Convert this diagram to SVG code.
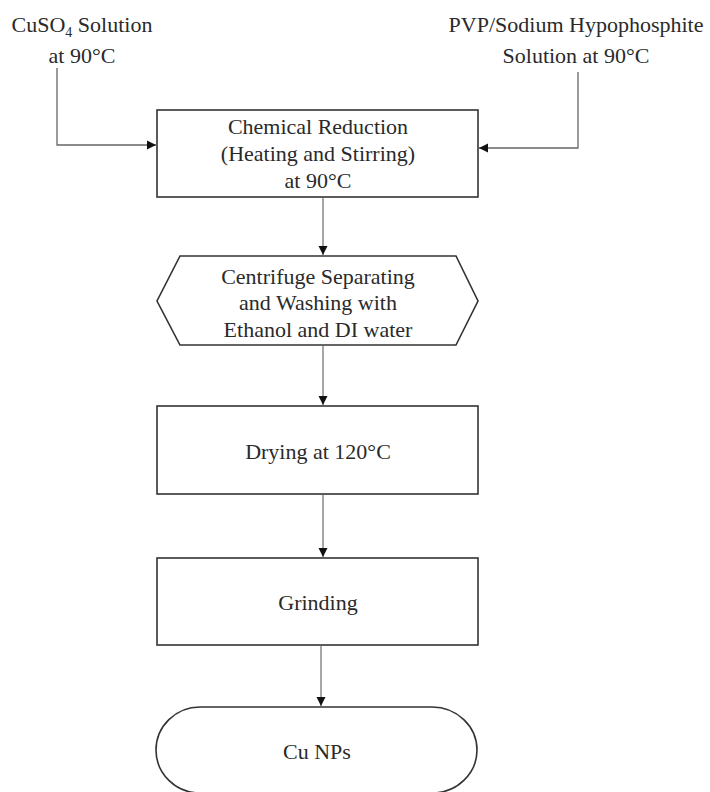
<svg xmlns="http://www.w3.org/2000/svg" width="710" height="792" viewBox="0 0 710 792">
<defs>
<marker id="ah" markerWidth="10" markerHeight="10" refX="9" refY="5" orient="auto" markerUnits="userSpaceOnUse">
<path d="M0,0.5 L9,5 L0,9.5 Z" fill="#111"/>
</marker>
<style>
text{font-family:"Liberation Serif","Times New Roman",serif;font-size:22px;fill:#2a2a2a;text-anchor:middle}
.box{fill:#fff;stroke:#333;stroke-width:1.6}
.conn{fill:none;stroke:#8a8a8a;stroke-width:1.5}
.inconn{fill:none;stroke:#666;stroke-width:1.3}
</style>
</defs>
<rect width="710" height="792" fill="#fff"/>
<g id="input-cuso4">
<text x="82" y="32">CuSO<tspan font-size="14" dy="5">4</tspan><tspan dy="-5"> Solution</tspan></text>
<text x="82" y="63">at 90°C</text>
</g>
<g id="input-pvp">
<text x="576" y="32">PVP/Sodium Hypophosphite</text>
<text x="576" y="63">Solution at 90°C</text>
</g>
<g id="reduction">
<rect class="box" x="157" y="110" width="321" height="87"/>
<text x="318" y="134">Chemical Reduction</text>
<text x="318" y="161">(Heating and Stirring)</text>
<text x="318" y="188">at 90°C</text>
</g>
<g id="centrifuge">
<polygon class="box" points="180,256 456,256 478,301 456,345 180,345 157,301"/>
<text x="318" y="284">Centrifuge Separating</text>
<text x="318" y="310">and Washing with</text>
<text x="318" y="337">Ethanol and DI water</text>
</g>
<g id="drying">
<rect class="box" x="157" y="406" width="321" height="88"/>
<text x="318" y="459">Drying at 120°C</text>
</g>
<g id="grinding">
<rect class="box" x="157" y="558" width="321" height="87"/>
<text x="318" y="610">Grinding</text>
</g>
<g id="product">
<path class="box" d="M200,707 H432 A45,43 0 0 1 432,793 H200 A44,43 0 0 1 200,707 Z"/>
<text x="317" y="759">Cu NPs</text>
</g>
<g id="connectors">
<path class="inconn" d="M57,68 V145 H156" marker-end="url(#ah)"/>
<path class="inconn" d="M578,72 V148 H479" marker-end="url(#ah)"/>
<path class="conn" d="M323,198 V255" marker-end="url(#ah)"/>
<path class="conn" d="M323,346 V405" marker-end="url(#ah)"/>
<path class="conn" d="M323,495 V557" marker-end="url(#ah)"/>
<path class="conn" d="M321,646 V706" marker-end="url(#ah)"/>
</g>
</svg>
